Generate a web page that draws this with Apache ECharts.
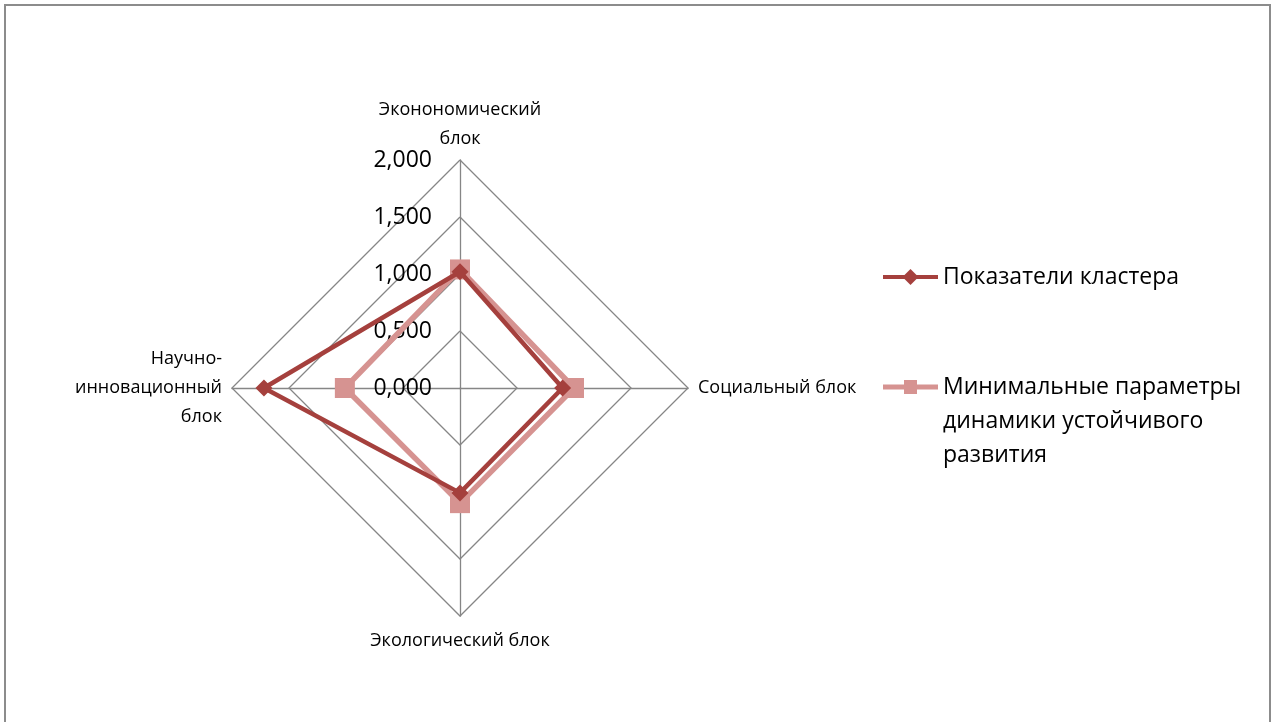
<!DOCTYPE html>
<html>
<head>
<meta charset="utf-8">
<style>
  html, body { margin: 0; padding: 0; background: #fff; }
  #chart { width: 1275px; height: 722px; }
</style>
<script src="https://cdn.jsdelivr.net/npm/echarts@6/dist/echarts.min.js"></script>
</head>
<body>
<div id="chart"></div>
<script>
// Blocks in drawing order: top, left, bottom, right (radar runs counter-clockwise)
const categories = [
  'Эконономический\nблок',
  'Научно-\nинновационный\nблок',
  'Экологический блок',
  'Социальный блок'
];
const seriesNames = [
  'Показатели кластера',
  'Минимальные параметры\nдинамики устойчивого\nразвития'
];
const clusterValues = [1.02, 1.72, 0.92, 0.90];
const minimumValues = [1.04, 1.01, 1.01, 1.00];
const axisMax = 2;
const axisTicks = ['0,000', '0,500', '1,000', '1,500', '2,000'];

const darkRed = '#A5403D';
const pink = '#D69391';
const gridGray = '#868686';
const font = '"Open Sans", "Noto Sans", sans-serif';

// Legend icons: a line with the series marker in its middle
const diamondIcon = 'path://M0,6 H55 V10 H0 Z M27.5,0 L35.5,8 L27.5,16 L19.5,8 Z';
const squareIcon = 'path://M0,4.5 H55 V9.5 H0 Z M21,0 H34 V14 H21 Z';

const chart = echarts.init(document.getElementById('chart'));

// only the top axis carries the value labels
const indicators = categories.map((name, i) => ({
  name: name,
  min: 0,
  max: axisMax,
  axisLabel: { show: i === 0 }
}));

const nameStyle = { color: '#000', fontFamily: font, fontSize: 18, lineHeight: 29 };

// The top name uses uneven line boxes so both lines sit a little lower,
// closer to their vertex, while keeping the usual line spacing
function formatAxisName(name) {
  const lines = name.split('\n');
  const isTop = name === categories[0];
  return lines.map((line, idx) => {
    if (isTop && idx === lines.length - 1) return '{last|' + line + '}';
    if (isTop) return '{first|' + line + '}';
    return '{n|' + line + '}';
  }).join('\n');
}

const legendText = { fontFamily: font, fontSize: 23, color: '#000', lineHeight: 34 };

chart.setOption({
  animation: false,
  backgroundColor: '#ffffff',
  graphic: [{
    type: 'polyline',
    shape: { points: [[5, 740], [5, 5], [1270, 5], [1270, 740]] },
    style: { stroke: '#8c8c8c', lineWidth: 2, fill: null },
    silent: true
  }],
  legend: [{
    data: [{ name: seriesNames[0], icon: diamondIcon }],
    orient: 'vertical',
    left: 883,
    top: 260,
    padding: 0,
    itemWidth: 55,
    itemHeight: 16,
    itemGap: 0,
    textStyle: legendText
  }, {
    data: [{ name: seriesNames[1], icon: squareIcon }],
    orient: 'vertical',
    left: 883,
    top: 302,
    padding: 0,
    itemWidth: 55,
    itemHeight: 14,
    itemGap: 0,
    // two leading blank lines keep the first text line level with the icon
    formatter: (name) => '\n\n' + name,
    textStyle: legendText
  }],
  radar: {
    center: [460, 388],
    radius: 228,
    startAngle: 90,
    shape: 'polygon',
    splitNumber: 4,
    indicator: indicators,
    axisName: {
      color: '#000',
      fontFamily: font,
      fontSize: 18,
      lineHeight: 29,
      formatter: formatAxisName,
      rich: {
        n: nameStyle,
        first: Object.assign({}, nameStyle, { lineHeight: 39 }),
        last: Object.assign({}, nameStyle, { lineHeight: 19 })
      }
    },
    nameGap: 10,
    axisLine: { lineStyle: { color: gridGray, width: 1.3 } },
    splitLine: { lineStyle: { color: gridGray, width: 1.3 } },
    splitArea: { show: false },
    axisTick: { show: false },
    axisLabel: {
      show: true,
      color: '#000',
      fontFamily: font,
      fontSize: 23,
      margin: 28,
      formatter: (v) => axisTicks[Math.round(v / (axisMax / 4))]
    }
  },
  series: [{
    type: 'radar',
    z: 2,
    data: [{
      name: seriesNames[1],
      value: minimumValues,
      symbol: 'rect',
      symbolSize: 20,
      lineStyle: { color: pink, width: 5.5 },
      itemStyle: { color: pink }
    }]
  }, {
    type: 'radar',
    z: 3,
    data: [{
      name: seriesNames[0],
      value: clusterValues,
      symbol: 'diamond',
      symbolSize: 17,
      lineStyle: { color: darkRed, width: 4.5 },
      itemStyle: { color: darkRed }
    }]
  }]
});
</script>
</body>
</html>
